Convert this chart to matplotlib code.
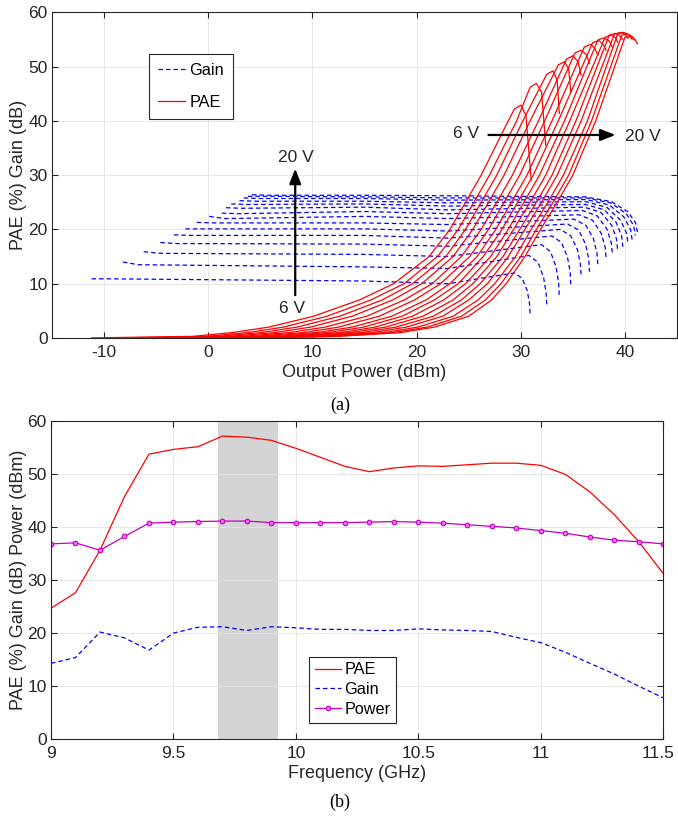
import numpy as np
import matplotlib
matplotlib.use('Agg')
import matplotlib.pyplot as plt
from matplotlib.transforms import ScaledTranslation

plt.rcParams['font.family'] = ['Liberation Sans', 'DejaVu Sans']
plt.rcParams['axes.unicode_minus'] = False

# ---- (a) Gain / PAE vs output power, drain voltage 6 V .. 20 V ----
volts = list(range(6, 21))

# gain curves (Pout dBm, gain dB)
gain_start_pout = [-11.2, -8.2, -6.2, -4.6, -3.3, -2.2, -1.1, 0.1, 1.3, 1.7, 2.2, 3.0, 3.4, 3.8, 4.2]
gain_start_db = [10.9, 14.0, 15.9, 17.6, 19.0, 20.1, 21.3, 22.4, 23.0, 24.0, 24.7, 25.3, 25.8, 26.1, 26.4]
gain_near_pout = [-9.7, -6.7, -4.7, -3.1, -1.8, -0.7, 0.4, 1.6, 2.8, 3.2, 3.7, 4.5, 4.9, 5.3, 5.7]
gain_near_db = [10.9, 13.5, 15.6, 17.4, 18.9, 20.1, 21.2, 22.0, 22.9, 23.9, 24.6, 25.2, 25.7, 26.1, 26.3]
gain_mid_pout = 15
gain_mid_db = [10.5, 13.1, 15.4, 17.3, 18.9, 20.1, 21.2, 22.4, 23.3, 24.1, 24.7, 25.2, 25.7, 26.0, 26.3]
gain_late_pout = 23
gain_late_db = [10.0, 12.8, 15.0, 16.9, 18.4, 19.7, 20.9, 22.0, 22.9, 23.6, 24.3, 24.9, 25.4, 25.8, 26.2]
knee_pout = [29.4, 30.8, 32.0, 33.0, 33.8, 34.5, 35.1, 35.6, 35.9, 36.1, 36.2, 36.3, 36.3, 36.3, 36.2]
knee_db = [12.0, 15.2, 17.2, 18.8, 20.0, 21.0, 21.9, 22.7, 23.5, 24.1, 24.6, 25.1, 25.5, 25.8, 26.0]
bend1_pout = [30.15, 31.65, 32.85, 33.9, 34.8, 35.55, 36.25, 36.9, 37.35, 37.7, 38.0, 38.3, 38.5, 38.65, 38.7]
bend1_db = [10.95, 13.94, 15.91, 17.61, 18.83, 19.91, 20.77, 21.69, 22.49, 23.13, 23.64, 24.03, 24.5, 24.88, 25.13]
bend2_pout = [30.63, 32.19, 33.39, 34.47, 35.44, 36.22, 36.98, 37.73, 38.28, 38.72, 39.15, 39.58, 39.9, 40.15, 40.3]
bend2_db = [8.68, 11.2, 13.11, 15.01, 16.29, 17.31, 18.3, 19.26, 20.06, 20.79, 21.33, 21.69, 22.3, 22.86, 23.23]
bend3_pout = [30.85, 32.44, 33.64, 34.74, 35.73, 36.53, 37.32, 38.11, 38.7, 39.19, 39.68, 40.16, 40.55, 40.84, 41.03]
bend3_db = [6.22, 8.23, 10.09, 12.21, 13.55, 14.51, 15.6, 16.65, 17.45, 18.27, 18.85, 19.3, 19.94, 20.69, 21.18]
end_pout = [30.9, 32.5, 33.7, 34.8, 35.8, 36.6, 37.4, 38.2, 38.8, 39.3, 39.8, 40.3, 40.7, 41.0, 41.2]
end_db = [4.2, 5.8, 7.6, 9.9, 11.3, 12.2, 13.4, 14.5, 15.3, 16.2, 16.8, 17.3, 18.0, 18.9, 19.5]

# PAE curves: Pout where each curve reaches the PAE levels below
pae_levels = [0.3, 1, 2, 4, 7, 10, 15, 20, 25, 30, 40]
pae_pout_03 = [-1.5, -0.2, 0.9, 2.0, 3.3, 4.4, 5.5, 6.5, 7.5, 8.4, 9.3, 10.1, 11.1, 11.9, 12.5]
pae_pout_1 = [2.3, 3.8, 5.1, 6.4, 7.8, 9.1, 10.4, 11.5, 12.7, 13.7, 14.8, 15.8, 16.9, 17.8, 18.5]
pae_pout_2 = [5.8, 7.2, 8.5, 9.8, 11.2, 12.5, 13.8, 14.9, 16.0, 17.0, 18.0, 19.0, 20.1, 21.0, 21.7]
pae_pout_4 = [10.1, 11.4, 12.6, 13.8, 15.2, 16.4, 17.6, 18.6, 19.6, 20.6, 21.6, 22.5, 23.5, 24.3, 25.0]
pae_pout_7 = [14.5, 15.6, 16.7, 17.7, 18.8, 19.8, 20.9, 21.7, 22.6, 23.5, 24.3, 25.0, 25.9, 26.6, 27.2]
pae_pout_10 = [17.8, 18.8, 19.6, 20.5, 21.5, 22.3, 23.2, 24.0, 24.7, 25.4, 26.1, 26.8, 27.5, 28.1, 28.6]
pae_pout_15 = [21.2, 22.0, 22.8, 23.5, 24.3, 25.1, 25.8, 26.4, 27.1, 27.7, 28.3, 28.8, 29.5, 30.0, 30.4]
pae_pout_20 = [23.2, 24.0, 24.7, 25.4, 26.2, 26.9, 27.6, 28.2, 28.8, 29.3, 29.9, 30.4, 31.0, 31.5, 31.9]
pae_pout_25 = [24.7, 25.5, 26.2, 26.9, 27.7, 28.4, 29.1, 29.7, 30.3, 30.9, 31.5, 32.0, 32.6, 33.1, 33.5]
pae_pout_30 = [26.2, 27.0, 27.7, 28.4, 29.2, 29.9, 30.6, 31.2, 31.8, 32.4, 33.0, 33.5, 34.1, 34.6, 35.0]
pae_pout_40 = [28.8, 29.6, 30.2, 30.9, 31.7, 32.3, 33.0, 33.6, 34.2, 34.7, 35.3, 35.8, 36.4, 36.8, 37.2]
pae_shoulder_pout = [29.4, 30.9, 32.5, 33.6, 34.4, 35.2, 36.1, 36.9, 37.4, 38.1, 38.5, 39.0, 39.3, 39.7, 40.0]
pae_shoulder = [42.2, 46.2, 48.6, 50.3, 51.4, 52.5, 53.6, 54.4, 54.9, 55.4, 55.8, 56.0, 56.0, 55.8, 55.4]
pae_peak_pout = [30.0, 31.5, 33.1, 34.2, 35.0, 35.8, 36.7, 37.5, 38.0, 38.7, 39.1, 39.6, 39.9, 40.3, 40.6]
pae_peak = [42.9, 46.9, 49.2, 50.9, 52.0, 53.0, 54.1, 54.8, 55.3, 55.8, 56.1, 56.3, 56.3, 56.0, 55.6]
pae_fall_pout = [30.5, 32.0, 33.5, 34.6, 35.5, 36.3, 37.1, 37.9, 38.5, 39.1, 39.5, 40.0, 40.4, 40.7, 40.95]
pae_fall = [41.0, 45.3, 47.5, 49.6, 50.9, 52.2, 53.4, 54.1, 54.7, 55.3, 55.7, 55.9, 55.8, 55.5, 55.0]
pae_end_pout = [31.0, 32.4, 33.7, 34.8, 35.8, 36.6, 37.4, 38.2, 38.8, 39.3, 39.8, 40.3, 40.7, 41.0, 41.2]
pae_end = [29.1, 35.5, 41.4, 45.3, 48.4, 50.6, 52.1, 53.0, 53.5, 54.5, 55.0, 55.2, 55.0, 54.8, 54.2]

# ---- (b) vs frequency ----
freq = [9.0, 9.1, 9.2, 9.3, 9.4, 9.5, 9.6, 9.7, 9.8, 9.9, 10.0, 10.1, 10.2,
        10.3, 10.4, 10.5, 10.6, 10.7, 10.8, 10.9, 11.0, 11.1, 11.2, 11.3, 11.4, 11.5]
pae_f = [24.7, 27.6, 35.6, 45.7, 53.7, 54.6, 55.1, 57.1, 56.9, 56.3, 54.8, 53.1, 51.4,
         50.4, 51.1, 51.5, 51.4, 51.7, 52.0, 52.0, 51.6, 49.9, 46.6, 42.3, 37.2, 31.2]
gain_f = [14.3, 15.4, 20.2, 19.1, 16.8, 20.0, 21.1, 21.2, 20.5, 21.2, 21.0, 20.7, 20.7,
          20.5, 20.5, 20.8, 20.6, 20.5, 20.3, 19.2, 18.2, 16.4, 14.3, 12.3, 10.0, 7.8]
power_f = [36.8, 37.0, 35.6, 38.2, 40.7, 40.9, 41.0, 41.1, 41.1, 40.8, 40.8, 40.8, 40.8,
           40.9, 41.0, 40.9, 40.7, 40.4, 40.1, 39.8, 39.3, 38.8, 38.1, 37.5, 37.2, 36.8]
band = [9.68, 9.925]

ink = '#262626'


def style_axes(ax):
    ax.tick_params(direction='in', length=4, width=0.8, top=True, right=True,
                   labelsize=12.5, colors=ink, pad=5)
    ax.tick_params(axis='y', pad=3)
    for s in ax.spines.values():
        s.set_color(ink)
        s.set_linewidth(0.8)
    ax.grid(True, color='#e3e3e3', lw=0.6)
    ax.set_axisbelow(True)


fig = plt.figure(figsize=(6.78, 8.16), dpi=100)

# (a)
ax1 = fig.add_axes([52 / 678, 1 - 338 / 816, 625 / 678, 325.7 / 816])
for i, v in enumerate(volts):
    gx = [gain_start_pout[i], gain_near_pout[i], gain_mid_pout, gain_late_pout, knee_pout[i],
          bend1_pout[i], bend2_pout[i], bend3_pout[i], end_pout[i]]
    gy = [gain_start_db[i], gain_near_db[i], gain_mid_db[i], gain_late_db[i], knee_db[i],
          bend1_db[i], bend2_db[i], bend3_db[i], end_db[i]]
    ax1.plot(gx, gy, color='b', lw=0.9, ls=(0, (3.6, 2.4)),
             label='Gain' if i == 0 else None)
for i, v in enumerate(volts):
    lv = [pae_pout_03, pae_pout_1, pae_pout_2, pae_pout_4, pae_pout_7, pae_pout_10,
          pae_pout_15, pae_pout_20, pae_pout_25, pae_pout_30, pae_pout_40]
    px = [gain_start_pout[i]] + [a[i] for a in lv] + \
         [pae_shoulder_pout[i], pae_peak_pout[i], pae_fall_pout[i], pae_end_pout[i]]
    py = [0.02] + pae_levels + [pae_shoulder[i], pae_peak[i], pae_fall[i], pae_end[i]]
    ax1.plot(px, py, color='r', lw=0.9, label='PAE' if i == 0 else None)

ax1.set_xlim(-15, 45)
ax1.set_ylim(0, 60)
ax1.set_xticks(np.arange(-10, 41, 10))
ax1.set_yticks(np.arange(0, 61, 10))
style_axes(ax1)
ax1.set_xlabel('Output Power (dBm)', fontsize=13, color=ink, labelpad=3)
ax1.set_ylabel('PAE (%) Gain (dB)', fontsize=13, color=ink)
ax1.yaxis.set_label_coords(-0.04, 0.5)

arrow = dict(arrowstyle='-|>,head_length=0.9,head_width=0.35', color='k', lw=1.6,
             shrinkA=0, shrinkB=0)
ax1.annotate('', xy=(8.35, 31.2), xytext=(8.35, 7.9), arrowprops=arrow)
ax1.text(8.45, 33.3, '20 V', ha='center', va='center', fontsize=12.5, color=ink)
ax1.text(8.0, 5.5, '6 V', ha='center', va='center', fontsize=12.5, color=ink)
ax1.annotate('', xy=(39.1, 37.4), xytext=(26.9, 37.4), arrowprops=arrow)
ax1.text(26.0, 37.6, '6 V', ha='right', va='center', fontsize=12.5, color=ink)
ax1.text(40.0, 37.2, '20 V', ha='left', va='center', fontsize=12.5, color=ink)

leg1 = ax1.legend(loc='upper left', bbox_to_anchor=(0.155, 0.873), borderaxespad=0,
                  fontsize=11.7, labelspacing=1.05, handlelength=1.7, handletextpad=0.25,
                  borderpad=0.55, fancybox=False, framealpha=1, edgecolor=ink)
leg1.get_frame().set_linewidth(0.8)

fig.text(340 / 678, 1 - 405 / 816, '(a)', ha='center', va='center',
         family='Liberation Serif', fontsize=13)

# (b)
ax2 = fig.add_axes([51 / 678, 1 - 739.3 / 816, 612.3 / 678, 318.6 / 816])
ax2.axvspan(band[0], band[1], color='#d4d4d4', lw=0, zorder=0.4)
ax2.plot(freq, pae_f, color='r', lw=0.9, label='PAE')
ax2.plot(freq, gain_f, color='b', lw=0.9, ls=(0, (3.6, 2.4)), label='Gain')
ax2.plot(freq, power_f, color='m', lw=0.9, marker='o', ms=3.3, mfc='#ff66ff',
         mec='m', mew=0.8, label='Power')
ax2.set_xlim(9, 11.5)
ax2.set_ylim(0, 60)
ax2.set_xticks([9, 9.5, 10, 10.5, 11, 11.5])
ax2.set_xticklabels(['9', '9.5', '10', '10.5', '11', '11.5'])
ax2.set_yticks(np.arange(0, 61, 10))
style_axes(ax2)
ax2.set_xlabel('Frequency (GHz)', fontsize=13, color=ink, labelpad=3)
ax2.set_ylabel('PAE (%) Gain (dB) Power (dBm)', fontsize=13, color=ink)
ax2.yaxis.set_label_coords(-0.04, 0.5)

# keep the last tick label inside the figure edge
last = ax2.xaxis.get_major_ticks()[-1].label1
last.set_transform(last.get_transform() + ScaledTranslation(-3.5 / 72, 0, fig.dpi_scale_trans))

leg2 = ax2.legend(loc='lower left', bbox_to_anchor=(0.422, 0.052), borderaxespad=0,
                  fontsize=11.7, labelspacing=0.3, handlelength=1.6, handletextpad=0.2,
                  borderpad=0.35, fancybox=False, framealpha=1, edgecolor=ink)
leg2.get_frame().set_linewidth(0.8)

fig.text(340 / 678, 1 - 802 / 816, '(b)', ha='center', va='center',
         family='Liberation Serif', fontsize=13)

fig.savefig('out.png', dpi=100)
